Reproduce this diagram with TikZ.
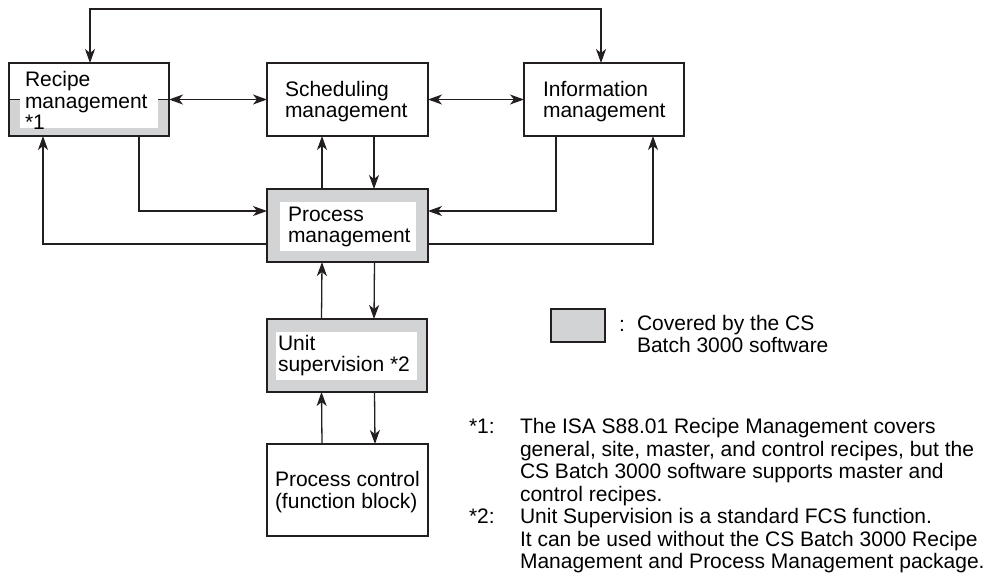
\documentclass[tikz,border=0pt]{standalone}
\usepackage{fontspec}
\setmainfont{Liberation Sans}
\usetikzlibrary{arrows.meta,calc}
\definecolor{covgray}{RGB}{210,211,213}
\definecolor{ink}{RGB}{35,31,32}
\begin{document}
\begin{tikzpicture}[x=1pt,y=-1pt,
  every node/.style={inner sep=0pt, outer sep=0pt},
  box/.style={draw=ink, line width=1.3pt, minimum height=73pt, minimum width=161pt},
  txt/.style={font=\fontsize{21}{21.5}\selectfont, align=left, anchor=west, text=black},
  note/.style={font=\fontsize{21}{22.5}\selectfont, align=left, anchor=north west, text=black},
  arr/.style={draw=ink, line width=1.3pt, -{Stealth[length=14pt,width=10pt,inset=4pt]}},
  dbl/.style={draw=ink, line width=1.3pt, {Stealth[length=14pt,width=10pt,inset=4pt]}-{Stealth[length=14pt,width=10pt,inset=4pt]}}]
\useasboundingbox (0,0) rectangle (992,576);

% Recipe management (partly covered)
\fill[covgray] (9,99) rectangle (169,136);
\fill[white] (20,99) rectangle (158,128);
\draw[ink, line width=1pt] (9,99) -- (20,99) (158,99) -- (169,99);
\node[box, minimum width=160pt] (rm) at (89,99.5) {};
\node[txt] (rmt) at (25,100.5) {Recipe\\management\\*1};

% Scheduling management
\node[box] (sm) at (347.5,99.5) {};
\node[txt] (smt) at (285,101.5) {Scheduling\\management};

% Information management
\node[box, minimum width=160pt] (im) at (604,99.5) {};
\node[txt] (imt) at (543,101.5) {Information\\management};

% Process management
\node[box, fill=covgray] (pm) at (347.5,225.5) {};
\fill[white] ([shift={(13,13)}]pm.north west) rectangle ([shift={(-12,-11)}]pm.south east);
\node[txt] (pmt) at (288,227) {Process\\management};

% Unit supervision
\node[box, fill=covgray, minimum width=160pt] (us) at (347,355.5) {};
\fill[white] ([shift={(9,13)}]us.north west) rectangle ([shift={(-10,-12)}]us.south east);
\node[txt] (ust) at (278,355.5) {Unit\\supervision *2};

% Process control
\node[box, minimum height=92pt] (pc) at (347.5,490) {};
\node[txt] (pct) at (275,492) {Process control\\(function block)};

% connectors
\draw[dbl] ([xshift=1pt]rm.north) -- ++(0,-54) -| ([xshift=-3pt]im.north);
\draw[dbl] (rm.east) -- (sm.west);
\draw[dbl] (sm.east) -- (im.west);
\draw[arr] ([xshift=-25.5pt]pm.north) -- ([xshift=-25.5pt]sm.south);
\draw[arr] ([xshift=26.5pt]sm.south) -- ([xshift=26.5pt]pm.north);
\draw[arr] ([xshift=50pt]rm.south) |- ([yshift=14.5pt]pm.west);
\draw[arr] ([yshift=-18.5pt]pm.west) -| ([xshift=-46pt]rm.south);
\draw[arr] ([xshift=-48pt]im.south) |- ([yshift=14.5pt]pm.east);
\draw[arr] ([yshift=-18.5pt]pm.east) -| ([xshift=49pt]im.south);
\draw[arr] ([xshift=-25.5pt]us.north) -- ([xshift=-25.5pt]pm.south);
\draw[arr] ([xshift=27pt]pm.south) -- ([xshift=27pt]us.north);
\draw[arr] ([xshift=-25.5pt]pc.north) -- ([xshift=-25.5pt]us.south);
\draw[arr] ([xshift=27.5pt]us.south) -- ([xshift=27.5pt]pc.north);

% legend
\node[draw=ink, line width=1.3pt, fill=covgray, minimum width=54pt, minimum height=33pt] (leg) at (578,325.5) {};
\node[txt, anchor=base west] (colon) at (619,331) {:};
\node[note, font=\fontsize{21}{22}\selectfont] (legt) at (637,315.7) {Covered by the CS\\Batch 3000 software};

% notes
\node[txt, anchor=base west] (n1) at (469,433) {*1:};
\node[note] (n1t) at (520,418.7) {The ISA S88.01 Recipe Management covers\\general, site, master, and control recipes, but the\\CS Batch 3000 software supports master and\\control recipes.};
\node[txt, anchor=base west] (n2) at (469,523) {*2:};
\node[note] (n2t) at (520,508.7) {Unit Supervision is a standard FCS function.\\It can be used without the CS Batch 3000 Recipe\\Management and Process Management package.};
\end{tikzpicture}
\end{document}
